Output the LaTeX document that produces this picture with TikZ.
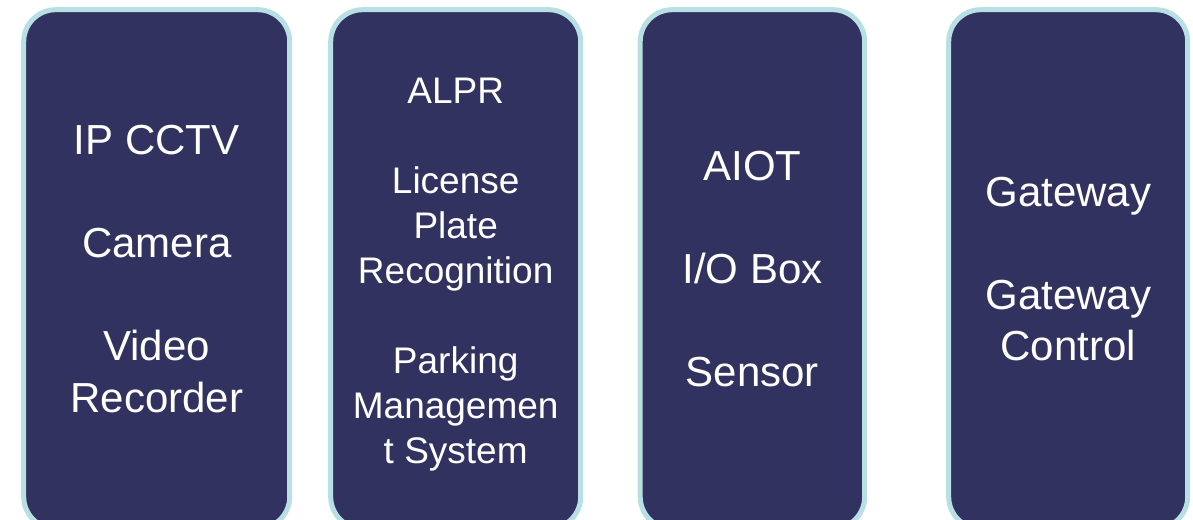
\documentclass[tikz,border=0pt]{standalone}
\usepackage{fontspec}
\setmainfont{Liberation Sans}
\usetikzlibrary{matrix}
\definecolor{tilefill}{HTML}{323260}
\definecolor{tileedge}{HTML}{B8E0E4}

\begin{document}
\begin{tikzpicture}[x=1pt,y=1pt]
\useasboundingbox (0,0) rectangle (1193,-519);
\matrix (tiles) [column sep = 0pt,
         nodes={rectangle, draw=tileedge, line width=5pt, fill=tilefill,
                rounded corners=32pt, minimum height=519pt,
                text=white, align=center,
                font={\fontsize{42}{51.5}\selectfont},
                inner sep=0pt, outer sep=0pt,
                anchor=center},
         %row 1/.append style = {nodes={fill=tilefill}},
         inner sep=0pt, anchor=north west,
         ] at (21,-7)
{
    \node (cctv) [minimum width=266pt] {IP CCTV\\~\\Camera\\~\\Video\\Recorder};
  &[36pt] \node (alpr) [minimum width=250pt, font={\fontsize{37}{45}\selectfont}] {\raisebox{0pt}[36pt][0pt]{ALPR}\\~\\License\\Plate\\Recognition\\~\\Parking\\Managemen\\t System};
  &[54.5pt] \node (aiot) [minimum width=224.5pt] {AIOT\\~\\I/O Box\\~\\Sensor};
  &[79pt] \node (gate) [minimum width=239pt] {Gateway\\~\\Gateway\\Control}; \\
};
\end{tikzpicture}
\end{document}
